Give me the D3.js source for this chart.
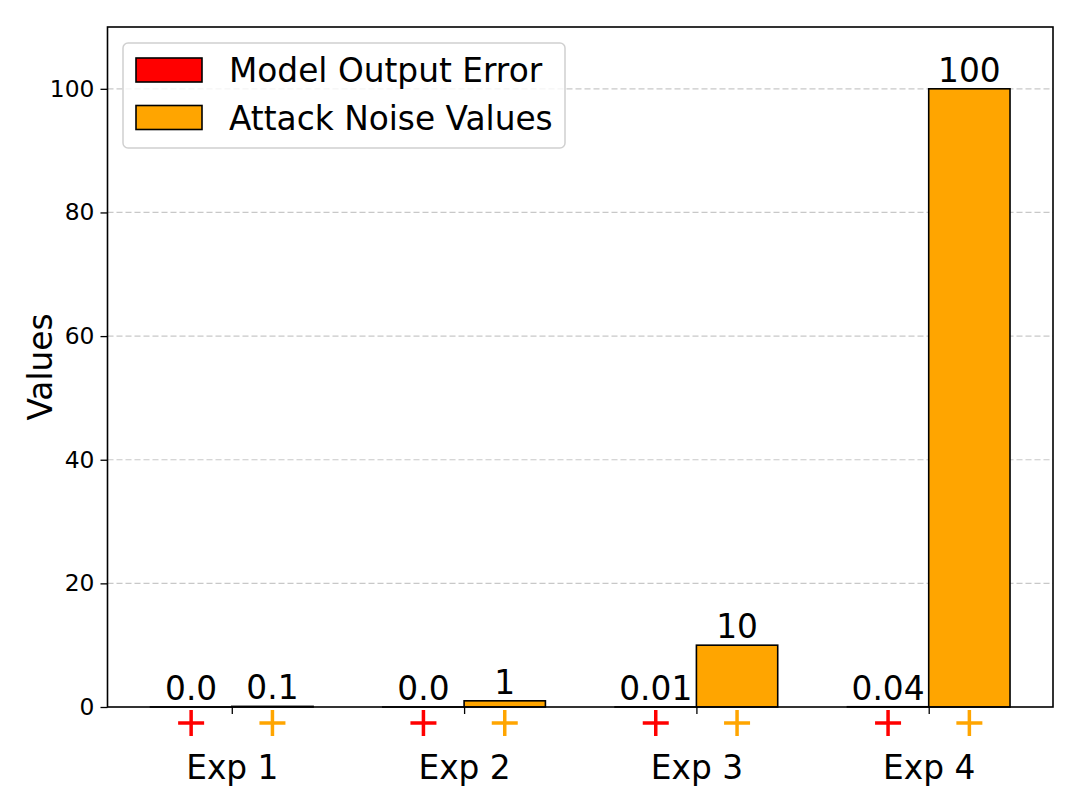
<!DOCTYPE html>
<html>
<head>
<meta charset="utf-8">
<script src="https://cdn.jsdelivr.net/npm/d3@7"></script>
<style>
  html, body { margin: 0; padding: 0; background: #fff; }
  svg { display: block; font-family: "DejaVu Sans", sans-serif; }
</style>
</head>
<body>
<svg id="chart" width="1079" height="809"></svg>
<script>
// ---- data ----
const categories = ["Exp 1", "Exp 2", "Exp 3", "Exp 4"];
const modelOutputError = [0.001, 0.003, 0.01, 0.04];
const attackNoiseValues = [0.1, 1, 10, 100];
const errorLabels = ["0.0", "0.0", "0.01", "0.04"];
const noiseLabels = ["0.1", "1", "10", "100"];
const yTicks = [0, 20, 40, 60, 80, 100];
const seriesNames = ["Model Output Error", "Attack Noise Values"];
const seriesColors = ["#ff0000", "#ffa500"];

// ---- layout ----
const svg = d3.select("#chart");
const plotLeft = 107.5, plotRight = 1053, plotTop = 27, plotBottom = 707;
const barWidth = 0.35;
const bigFont = 32.8;

const x = d3.scaleLinear().domain([-0.535, 3.535]).range([plotLeft, plotRight]);
const y = d3.scaleLinear().domain([0, 110]).range([plotBottom, plotTop]);

// grid
svg.append("g").selectAll("line").data(yTicks.filter(d => d > 0)).join("line")
  .attr("x1", plotLeft).attr("x2", plotRight)
  .attr("y1", d => y(d)).attr("y2", d => y(d))
  .attr("stroke", "#b0b0b0").attr("stroke-opacity", 0.7)
  .attr("stroke-width", 1.2).attr("stroke-dasharray", "6,3");

// bars
const series = [modelOutputError, attackNoiseValues];
const labels = [errorLabels, noiseLabels];
series.forEach((vals, s) => {
  const off = s === 0 ? -barWidth : 0;
  const g = svg.append("g");
  g.selectAll("rect").data(vals).join("rect")
    .attr("x", (d, i) => x(i + off))
    .attr("width", x(barWidth) - x(0))
    .attr("y", d => y(d))
    .attr("height", d => Math.max(0, y(0) - y(d)))
    .attr("fill", seriesColors[s])
    .attr("stroke", "#000").attr("stroke-width", 1.6);
  g.selectAll("text").data(vals).join("text")
    .attr("x", (d, i) => x(i + off + barWidth / 2))
    .attr("y", d => y(d) - 7)
    .attr("text-anchor", "middle")
    .attr("font-size", bigFont)
    .attr("fill", "#000")
    .text((d, i) => labels[s][i]);
  g.selectAll("path.plus").data(vals).join("path")
    .attr("class", "plus")
    .attr("d", (d, i) => {
      const cx = x(i + off + barWidth / 2), cy = 723, r = 13;
      return `M${cx - r},${cy}H${cx + r}M${cx},${cy - r}V${cy + r}`;
    })
    .attr("stroke", seriesColors[s]).attr("stroke-width", 3.5).attr("fill", "none");
});

// frame
svg.append("rect").attr("x", plotLeft).attr("y", plotTop)
  .attr("width", plotRight - plotLeft).attr("height", plotBottom - plotTop)
  .attr("fill", "none").attr("stroke", "#000").attr("stroke-width", 1.6);

// y axis
const yAxis = svg.append("g").attr("transform", `translate(${plotLeft},0)`)
  .call(d3.axisLeft(y).tickValues(yTicks).tickSize(7).tickPadding(6).tickFormat(d3.format("d")));
yAxis.select(".domain").remove();
yAxis.selectAll("line").attr("stroke", "#000").attr("stroke-width", 1.3);
yAxis.selectAll("text").attr("font-size", 23.4).attr("fill", "#000")
  .attr("font-family", "DejaVu Sans, sans-serif");

// x axis (ticks at group centers)
const xAxis = svg.append("g").attr("transform", `translate(0,${plotBottom})`)
  .call(d3.axisBottom(x).tickValues(d3.range(categories.length)).tickSize(7)
    .tickFormat(i => categories[i]));
xAxis.select(".domain").remove();
xAxis.selectAll("line").attr("stroke", "#000").attr("stroke-width", 1.3);
xAxis.selectAll("text").attr("font-size", bigFont).attr("fill", "#000")
  .attr("font-family", "DejaVu Sans, sans-serif")
  .attr("dy", null).attr("y", 72);

// y label
svg.append("text")
  .attr("transform", `translate(52,${(plotTop + plotBottom) / 2}) rotate(-90)`)
  .attr("text-anchor", "middle").attr("font-size", bigFont).attr("fill", "#000")
  .text("Values");

// legend
const lg = svg.append("g");
lg.append("rect").attr("x", 123).attr("y", 43).attr("width", 442).attr("height", 105)
  .attr("rx", 5).attr("fill", "#fff").attr("fill-opacity", 0.8)
  .attr("stroke", "#d0d0d0").attr("stroke-width", 1.5);
seriesNames.forEach((name, i) => {
  const yy = 58 + i * 47.5;
  lg.append("rect").attr("x", 136).attr("y", yy).attr("width", 66).attr("height", 24)
    .attr("fill", seriesColors[i]).attr("stroke", "#000").attr("stroke-width", 1.6);
  lg.append("text").attr("x", 229).attr("y", yy + 24).attr("font-size", bigFont)
    .attr("fill", "#000").text(name);
});
</script>
</body>
</html>
